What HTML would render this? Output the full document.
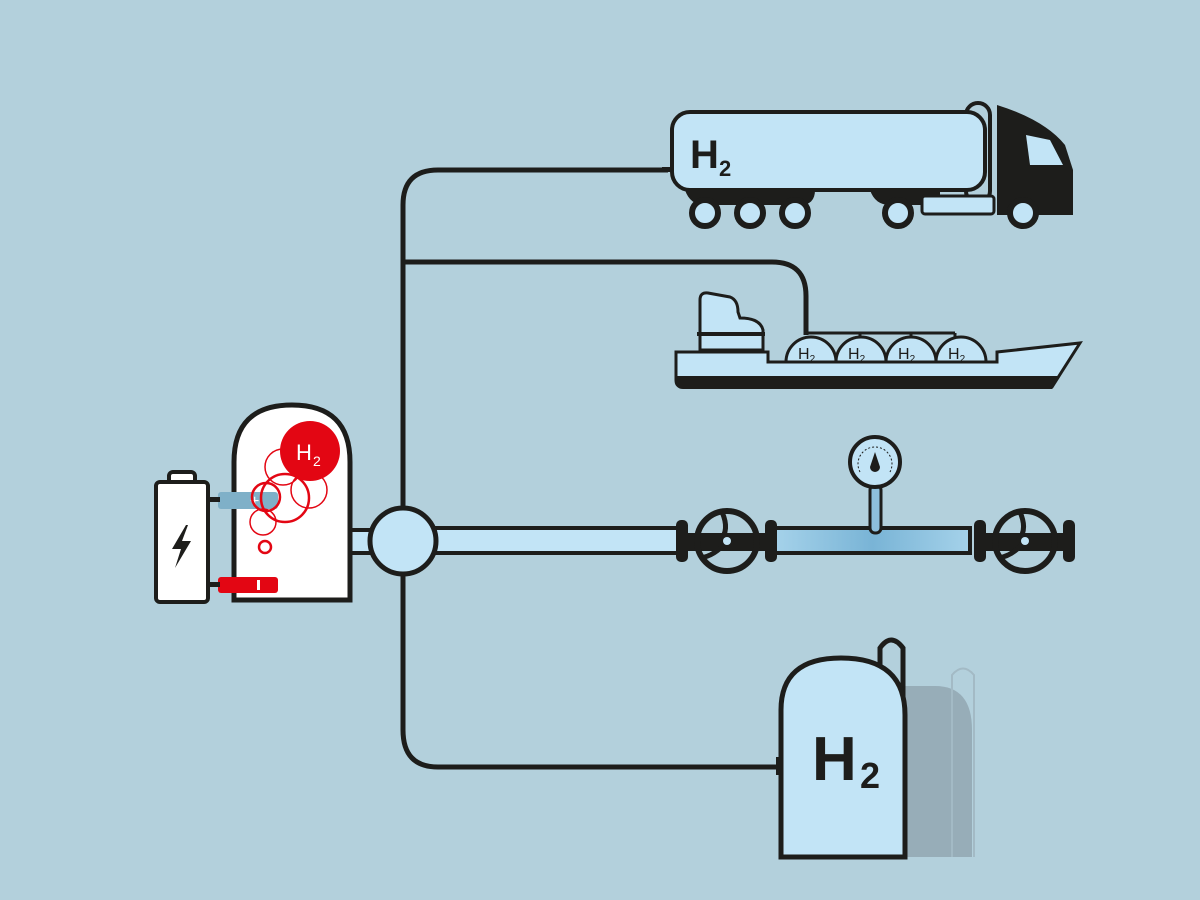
<!DOCTYPE html>
<html><head><style>body{margin:0;background:#b3d0dc}svg{display:block}text{font-family:"Liberation Sans",sans-serif}</style></head><body>
<svg width="1200" height="900" viewBox="0 0 1200 900">
<rect width="1200" height="900" fill="#b3d0dc"/>
<defs><linearGradient id="g" x1="0" x2="1"><stop offset="0" stop-color="#a5d2ea"/><stop offset="0.5" stop-color="#79b4d6"/><stop offset="1" stop-color="#a5d2ea"/></linearGradient></defs>
<g fill="none" stroke="#1d1d1b" stroke-width="5">
<path d="M668,170 H438 Q403,170 403,205 V730 Q403,767 438,767 H780"/>
<path d="M403,262 H772 Q806,262 806,296 V335"/>
</g>
<!-- storage shadow -->
<path d="M905,686 H935 Q972,686 972,730 V857 H905Z" fill="#97adb8"/>
<path d="M952,857 V675 Q963,662 974,675 V857" fill="none" stroke="#a3bac5" stroke-width="2"/>
<!-- storage tank -->
<path d="M880,700 V648 Q891,632 903,648 V700" fill="#b3d0dc" stroke="#1d1d1b" stroke-width="5"/>
<path d="M781,857 V710 Q781,658 841,658 Q905,658 905,715 V857Z" fill="#c2e4f6" stroke="#1d1d1b" stroke-width="5"/>
<rect x="776" y="757" width="6" height="18" fill="#1d1d1b"/>
<text x="812" y="780" font-size="62" font-weight="bold" fill="#1d1d1b">H</text><text x="860" y="788" font-size="36" font-weight="bold" fill="#1d1d1b">2</text>
<!-- electrolyzer -->
<rect x="345" y="530" width="30" height="23" fill="#c2e4f6" stroke="#1d1d1b" stroke-width="4"/>
<path d="M234,600 V462 Q234,405 292,405 Q350,405 350,462 V600Z" fill="#fff" stroke="#1d1d1b" stroke-width="5"/>
<rect x="218" y="492" width="60" height="17" rx="3" fill="#7fb0c8"/>
<text x="250" y="506" font-size="16" fill="#fff">+</text>
<rect x="218" y="577" width="60" height="16" rx="3" fill="#e30613"/>
<rect x="257" y="580" width="3" height="10" fill="#fff"/>
<g fill="none" stroke="#e30613" stroke-width="1.5"><circle cx="283" cy="467" r="18"/><circle cx="309" cy="490" r="18"/><circle cx="263" cy="522" r="13"/><circle cx="266" cy="497" r="14" stroke-width="2.5"/></g>
<circle cx="285" cy="498" r="24" fill="none" stroke="#e30613" stroke-width="2.5"/>
<circle cx="265" cy="547" r="6" fill="none" stroke="#e30613" stroke-width="2.5"/>
<circle cx="310" cy="451" r="30" fill="#e30613"/>
<text x="296" y="460" font-size="22" fill="#fff">H</text><text x="313" y="466" font-size="14" fill="#fff">2</text>
<!-- battery -->
<rect x="208" y="497" width="12" height="5" fill="#1d1d1b"/><rect x="208" y="582" width="12" height="5" fill="#1d1d1b"/>
<rect x="169" y="472" width="26" height="12" rx="4" fill="#fff" stroke="#1d1d1b" stroke-width="4"/>
<rect x="156" y="482" width="52" height="120" rx="4" fill="#fff" stroke="#1d1d1b" stroke-width="4"/>
<path d="M186,525 L172,549 L181,549 L175,568 L191,541 L182,541 L188,525Z" fill="#1d1d1b"/>
<!-- pipeline -->
<rect x="420" y="528" width="265" height="25" fill="#c2e4f6" stroke="#1d1d1b" stroke-width="4"/>
<circle cx="403" cy="541" r="33" fill="#c2e4f6" stroke="#1d1d1b" stroke-width="5"/>
<rect x="775" y="528" width="195" height="25" fill="url(#g)" stroke="#1d1d1b" stroke-width="4"/>
<rect x="870" y="485" width="11" height="48" rx="5" fill="#8dbfdc" stroke="#1d1d1b" stroke-width="3"/>
<circle cx="875" cy="462" r="25" fill="#c2e4f6" stroke="#1d1d1b" stroke-width="4"/>
<path d="M860,472 A17,17 0 1 1 890,472" fill="none" stroke="#1d1d1b" stroke-width="1" stroke-dasharray="2,2"/>
<path d="M875,452 L870,467 A5,5 0 1 0 880,467Z" fill="#1d1d1b"/>
<g id="v">
<rect x="676" y="520" width="12" height="42" rx="5" fill="#1d1d1b"/>
<rect x="765" y="520" width="12" height="42" rx="5" fill="#1d1d1b"/>
<rect x="685" y="533" width="85" height="18" fill="#1d1d1b"/>
<circle cx="727" cy="541" r="30" fill="none" stroke="#1d1d1b" stroke-width="6"/>
<path d="M722,512 Q730,530 720,541 M727,541 Q715,556 700,558" fill="none" stroke="#1d1d1b" stroke-width="5"/>
<circle cx="727" cy="541" r="4" fill="#c2e4f6"/>
</g>
<use href="#v" x="298"/>
<!-- truck -->
<path d="M685,190 Q690,205 705,205 H800 Q815,205 815,190Z M870,190 Q875,205 890,205 H940 V190Z" fill="#1d1d1b"/>
<rect x="966" y="103" width="24" height="100" rx="12" fill="#b3d0dc" stroke="#1d1d1b" stroke-width="4"/>
<rect x="672" y="112" width="313" height="78" rx="18" fill="#c2e4f6" stroke="#1d1d1b" stroke-width="4"/>
<rect x="662" y="167" width="10" height="5" fill="#1d1d1b"/>
<text x="690" y="168" font-size="40" font-weight="bold" fill="#1d1d1b">H</text><text x="719" y="176" font-size="22" font-weight="bold" fill="#1d1d1b">2</text>
<path d="M997,105 Q1045,120 1065,145 L1073,170 V215 H997Z" fill="#1d1d1b"/>
<path d="M1026,135 L1050,140 L1063,165 L1030,165Z" fill="#c2e4f6"/>
<rect x="922" y="196" width="72" height="18" rx="3" fill="#c2e4f6" stroke="#1d1d1b" stroke-width="3"/>
<g fill="#c2e4f6" stroke="#1d1d1b" stroke-width="6"><circle cx="705" cy="213" r="13"/><circle cx="750" cy="213" r="13"/><circle cx="795" cy="213" r="13"/><circle cx="898" cy="213" r="13"/><circle cx="1023" cy="213" r="13"/></g>
<!-- ship -->
<path d="M700,350 V300 Q700,292 708,293 L730,297 Q738,300 738,312 L740,318 Q760,318 763,330 V350Z" fill="#c2e4f6" stroke="#1d1d1b" stroke-width="3"/>
<rect x="697" y="332" width="68" height="4" fill="#1d1d1b"/>
<path d="M806,333 H955 M860,333 V338 M911,333 V338 M955,333 V338" fill="none" stroke="#1d1d1b" stroke-width="3"/>
<g fill="#c2e4f6" stroke="#1d1d1b" stroke-width="3"><path d="M786,362 A25,25 0 0 1 836,362Z"/><path d="M836,362 A25,25 0 0 1 886,362Z"/><path d="M886,362 A25,25 0 0 1 936,362Z"/><path d="M936,362 A25,25 0 0 1 986,362Z"/></g>
<g font-size="16" fill="#1d1d1b"><text x="798" y="359">H<tspan font-size="10" dy="3">2</tspan></text><text x="848" y="359">H<tspan font-size="10" dy="3">2</tspan></text><text x="898" y="359">H<tspan font-size="10" dy="3">2</tspan></text><text x="948" y="359">H<tspan font-size="10" dy="3">2</tspan></text></g>
<path d="M676,352 H768 V362 H997 V352 L1080,343 L1052,387 H683 Q676,387 676,380Z" fill="#c2e4f6" stroke="#1d1d1b" stroke-width="3"/>
<path d="M676,376 H1060 L1052,389 H683 Q676,389 676,382Z" fill="#1d1d1b"/>
</svg>
</body></html>
